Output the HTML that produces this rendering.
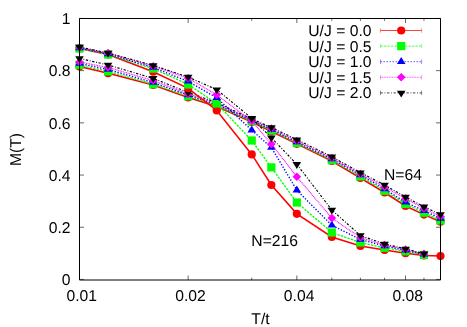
<!DOCTYPE html>
<html><head><meta charset="utf-8"><title>M(T)</title>
<style>html,body{margin:0;padding:0;background:#fff}svg{display:block;will-change:transform}text{font-family:"Liberation Sans",sans-serif;font-size:15.7px;fill:#000;text-rendering:geometricPrecision}</style></head><body>
<svg width="467" height="327" viewBox="0 0 467 327">
<rect width="467" height="327" fill="#fff"/>
<path d="M79.5 279.45h4.5M440.5 279.45h-4.5M79.5 227.25h4.5M440.5 227.25h-4.5M79.5 175.05h4.5M440.5 175.05h-4.5M79.5 122.85h4.5M440.5 122.85h-4.5M79.5 70.65h4.5M440.5 70.65h-4.5M79.5 18.45h4.5M440.5 18.45h-4.5M79.50 280.0v-4.5M79.50 18.5v4.5M188.17 280.0v-4.5M188.17 18.5v4.5M296.84 280.0v-4.5M296.84 18.5v4.5M405.52 280.0v-4.5M405.52 18.5v4.5M251.74 280.0v-2.3M251.74 18.5v2.3M331.83 280.0v-2.3M331.83 18.5v2.3M360.41 280.0v-2.3M360.41 18.5v2.3M384.58 280.0v-2.3M384.58 18.5v2.3M423.98 280.0v-2.3M423.98 18.5v2.3M440.50 280.0v-2.3M440.50 18.5v2.3" stroke="#000" stroke-width="0.6" fill="none"/>
<polyline points="79.50,66.50 108.08,73.20 153.19,85.00 188.17,97.40 216.76,106.50 251.74,122.00 271.36,131.50 296.84,143.80 331.83,161.00 360.41,178.00 384.58,192.50 405.52,206.00 423.98,214.60 440.50,221.70" fill="none" stroke="#ff0000" stroke-width="1.55"/>
<circle cx="79.50" cy="66.50" r="4.1" fill="#ff0000"/><circle cx="108.08" cy="73.20" r="4.1" fill="#ff0000"/><circle cx="153.19" cy="85.00" r="4.1" fill="#ff0000"/><circle cx="188.17" cy="97.40" r="4.1" fill="#ff0000"/><circle cx="216.76" cy="106.50" r="4.1" fill="#ff0000"/><circle cx="251.74" cy="122.00" r="4.1" fill="#ff0000"/><circle cx="271.36" cy="131.50" r="4.1" fill="#ff0000"/><circle cx="296.84" cy="143.80" r="4.1" fill="#ff0000"/><circle cx="331.83" cy="161.00" r="4.1" fill="#ff0000"/><circle cx="360.41" cy="178.00" r="4.1" fill="#ff0000"/><circle cx="384.58" cy="192.50" r="4.1" fill="#ff0000"/><circle cx="405.52" cy="206.00" r="4.1" fill="#ff0000"/><circle cx="423.98" cy="214.60" r="4.1" fill="#ff0000"/><circle cx="440.50" cy="221.70" r="4.1" fill="#ff0000"/>
<polyline points="79.50,65.00 108.08,71.40 153.19,84.20 188.17,96.20 216.76,105.50 251.74,121.30 271.36,130.50 296.84,143.00 331.83,160.20 360.41,176.50 384.58,190.80 405.52,204.00 423.98,212.70 440.50,220.50" fill="none" stroke="#00ff00" stroke-width="1.3" stroke-dasharray="2.3 1.2"/>
<rect x="75.40" y="60.90" width="8.2" height="8.2" fill="#00ff00"/><rect x="103.98" y="67.30" width="8.2" height="8.2" fill="#00ff00"/><rect x="149.09" y="80.10" width="8.2" height="8.2" fill="#00ff00"/><rect x="184.07" y="92.10" width="8.2" height="8.2" fill="#00ff00"/><rect x="212.66" y="101.40" width="8.2" height="8.2" fill="#00ff00"/><rect x="247.64" y="117.20" width="8.2" height="8.2" fill="#00ff00"/><rect x="267.26" y="126.40" width="8.2" height="8.2" fill="#00ff00"/><rect x="292.74" y="138.90" width="8.2" height="8.2" fill="#00ff00"/><rect x="327.73" y="156.10" width="8.2" height="8.2" fill="#00ff00"/><rect x="356.31" y="172.40" width="8.2" height="8.2" fill="#00ff00"/><rect x="380.48" y="186.70" width="8.2" height="8.2" fill="#00ff00"/><rect x="401.42" y="199.90" width="8.2" height="8.2" fill="#00ff00"/><rect x="419.88" y="208.60" width="8.2" height="8.2" fill="#00ff00"/><rect x="436.40" y="216.40" width="8.2" height="8.2" fill="#00ff00"/>
<polyline points="79.50,63.50 108.08,69.50 153.19,82.50 188.17,95.00 216.76,104.50 251.74,120.50 271.36,129.50 296.84,142.00 331.83,159.00 360.41,175.00 384.58,189.00 405.52,202.30 423.98,210.80 440.50,218.50" fill="none" stroke="#0000ff" stroke-width="1.4" stroke-dasharray="1.3 1.7"/>
<path d="M79.50 58.90L75.20 65.70L83.80 65.70Z" fill="#0000ff"/><path d="M108.08 64.90L103.78 71.70L112.38 71.70Z" fill="#0000ff"/><path d="M153.19 77.90L148.89 84.70L157.49 84.70Z" fill="#0000ff"/><path d="M188.17 90.40L183.87 97.20L192.47 97.20Z" fill="#0000ff"/><path d="M216.76 99.90L212.46 106.70L221.06 106.70Z" fill="#0000ff"/><path d="M251.74 115.90L247.44 122.70L256.04 122.70Z" fill="#0000ff"/><path d="M271.36 124.90L267.06 131.70L275.66 131.70Z" fill="#0000ff"/><path d="M296.84 137.40L292.54 144.20L301.14 144.20Z" fill="#0000ff"/><path d="M331.83 154.40L327.53 161.20L336.13 161.20Z" fill="#0000ff"/><path d="M360.41 170.40L356.11 177.20L364.71 177.20Z" fill="#0000ff"/><path d="M384.58 184.40L380.28 191.20L388.88 191.20Z" fill="#0000ff"/><path d="M405.52 197.70L401.22 204.50L409.82 204.50Z" fill="#0000ff"/><path d="M423.98 206.20L419.68 213.00L428.28 213.00Z" fill="#0000ff"/><path d="M440.50 213.90L436.20 220.70L444.80 220.70Z" fill="#0000ff"/>
<polyline points="79.50,62.00 108.08,67.50 153.19,80.50 188.17,94.00 216.76,103.50 251.74,119.70 271.36,128.50 296.84,141.00 331.83,158.00 360.41,174.00 384.58,187.00 405.52,198.60 423.98,208.50 440.50,216.50" fill="none" stroke="#ff00ff" stroke-width="1.2" stroke-dasharray="0.9 0.75"/>
<path d="M79.50 57.70L75.20 62.00L79.50 66.30L83.80 62.00Z" fill="#ff00ff"/><path d="M108.08 63.20L103.78 67.50L108.08 71.80L112.38 67.50Z" fill="#ff00ff"/><path d="M153.19 76.20L148.89 80.50L153.19 84.80L157.49 80.50Z" fill="#ff00ff"/><path d="M188.17 89.70L183.87 94.00L188.17 98.30L192.47 94.00Z" fill="#ff00ff"/><path d="M216.76 99.20L212.46 103.50L216.76 107.80L221.06 103.50Z" fill="#ff00ff"/><path d="M251.74 115.40L247.44 119.70L251.74 124.00L256.04 119.70Z" fill="#ff00ff"/><path d="M271.36 124.20L267.06 128.50L271.36 132.80L275.66 128.50Z" fill="#ff00ff"/><path d="M296.84 136.70L292.54 141.00L296.84 145.30L301.14 141.00Z" fill="#ff00ff"/><path d="M331.83 153.70L327.53 158.00L331.83 162.30L336.13 158.00Z" fill="#ff00ff"/><path d="M360.41 169.70L356.11 174.00L360.41 178.30L364.71 174.00Z" fill="#ff00ff"/><path d="M384.58 182.70L380.28 187.00L384.58 191.30L388.88 187.00Z" fill="#ff00ff"/><path d="M405.52 194.30L401.22 198.60L405.52 202.90L409.82 198.60Z" fill="#ff00ff"/><path d="M423.98 204.20L419.68 208.50L423.98 212.80L428.28 208.50Z" fill="#ff00ff"/><path d="M440.50 212.20L436.20 216.50L440.50 220.80L444.80 216.50Z" fill="#ff00ff"/>
<polyline points="79.50,58.40 108.08,65.00 153.19,78.30 188.17,92.50 216.76,102.50 251.74,119.00 271.36,127.40 296.84,139.70 331.83,156.70 360.41,172.60 384.58,185.00 405.52,197.00 423.98,206.80 440.50,214.50" fill="none" stroke="#000000" stroke-width="1.15" stroke-dasharray="2.3 1.7 0.9 1.6"/>
<path d="M79.50 63.00L75.20 56.20L83.80 56.20Z" fill="#000000"/><path d="M108.08 69.60L103.78 62.80L112.38 62.80Z" fill="#000000"/><path d="M153.19 82.90L148.89 76.10L157.49 76.10Z" fill="#000000"/><path d="M188.17 97.10L183.87 90.30L192.47 90.30Z" fill="#000000"/><path d="M216.76 107.10L212.46 100.30L221.06 100.30Z" fill="#000000"/><path d="M251.74 123.60L247.44 116.80L256.04 116.80Z" fill="#000000"/><path d="M271.36 132.00L267.06 125.20L275.66 125.20Z" fill="#000000"/><path d="M296.84 144.30L292.54 137.50L301.14 137.50Z" fill="#000000"/><path d="M331.83 161.30L327.53 154.50L336.13 154.50Z" fill="#000000"/><path d="M360.41 177.20L356.11 170.40L364.71 170.40Z" fill="#000000"/><path d="M384.58 189.60L380.28 182.80L388.88 182.80Z" fill="#000000"/><path d="M405.52 201.60L401.22 194.80L409.82 194.80Z" fill="#000000"/><path d="M423.98 211.40L419.68 204.60L428.28 204.60Z" fill="#000000"/><path d="M440.50 219.10L436.20 212.30L444.80 212.30Z" fill="#000000"/>
<polyline points="79.50,48.50 108.08,54.50 153.19,71.70 188.17,88.30 216.76,110.50 251.74,154.40 271.36,185.00 296.84,213.80 331.83,237.00 360.41,246.00 384.58,250.00 405.52,253.20 423.98,255.50 440.50,256.10" fill="none" stroke="#ff0000" stroke-width="1.55"/>
<circle cx="79.50" cy="48.50" r="4.1" fill="#ff0000"/><circle cx="108.08" cy="54.50" r="4.1" fill="#ff0000"/><circle cx="153.19" cy="71.70" r="4.1" fill="#ff0000"/><circle cx="188.17" cy="88.30" r="4.1" fill="#ff0000"/><circle cx="216.76" cy="110.50" r="4.1" fill="#ff0000"/><circle cx="251.74" cy="154.40" r="4.1" fill="#ff0000"/><circle cx="271.36" cy="185.00" r="4.1" fill="#ff0000"/><circle cx="296.84" cy="213.80" r="4.1" fill="#ff0000"/><circle cx="331.83" cy="237.00" r="4.1" fill="#ff0000"/><circle cx="360.41" cy="246.00" r="4.1" fill="#ff0000"/><circle cx="384.58" cy="250.00" r="4.1" fill="#ff0000"/><circle cx="405.52" cy="253.20" r="4.1" fill="#ff0000"/><circle cx="423.98" cy="255.50" r="4.1" fill="#ff0000"/><circle cx="440.50" cy="256.10" r="4.1" fill="#ff0000"/>
<polyline points="79.50,48.50 108.08,54.50 153.19,68.60 188.17,84.50 216.76,103.50 251.74,140.50 271.36,167.40 296.84,202.50 331.83,232.50 360.41,242.50 384.58,247.80 405.52,251.30 423.98,254.90" fill="none" stroke="#00ff00" stroke-width="1.3" stroke-dasharray="2.3 1.2"/>
<rect x="75.40" y="44.40" width="8.2" height="8.2" fill="#00ff00"/><rect x="103.98" y="50.40" width="8.2" height="8.2" fill="#00ff00"/><rect x="149.09" y="64.50" width="8.2" height="8.2" fill="#00ff00"/><rect x="184.07" y="80.40" width="8.2" height="8.2" fill="#00ff00"/><rect x="212.66" y="99.40" width="8.2" height="8.2" fill="#00ff00"/><rect x="247.64" y="136.40" width="8.2" height="8.2" fill="#00ff00"/><rect x="267.26" y="163.30" width="8.2" height="8.2" fill="#00ff00"/><rect x="292.74" y="198.40" width="8.2" height="8.2" fill="#00ff00"/><rect x="327.73" y="228.40" width="8.2" height="8.2" fill="#00ff00"/><rect x="356.31" y="238.40" width="8.2" height="8.2" fill="#00ff00"/><rect x="380.48" y="243.70" width="8.2" height="8.2" fill="#00ff00"/><rect x="401.42" y="247.20" width="8.2" height="8.2" fill="#00ff00"/><rect x="419.88" y="250.80" width="8.2" height="8.2" fill="#00ff00"/>
<polyline points="79.50,48.00 108.08,54.00 153.19,67.50 188.17,81.40 216.76,97.80 251.74,130.20 271.36,147.50 296.84,190.20 331.83,225.30 360.41,239.50 384.58,246.00 405.52,250.30 423.98,254.30" fill="none" stroke="#0000ff" stroke-width="1.4" stroke-dasharray="1.3 1.7"/>
<path d="M79.50 43.40L75.20 50.20L83.80 50.20Z" fill="#0000ff"/><path d="M108.08 49.40L103.78 56.20L112.38 56.20Z" fill="#0000ff"/><path d="M153.19 62.90L148.89 69.70L157.49 69.70Z" fill="#0000ff"/><path d="M188.17 76.80L183.87 83.60L192.47 83.60Z" fill="#0000ff"/><path d="M216.76 93.20L212.46 100.00L221.06 100.00Z" fill="#0000ff"/><path d="M251.74 125.60L247.44 132.40L256.04 132.40Z" fill="#0000ff"/><path d="M271.36 142.90L267.06 149.70L275.66 149.70Z" fill="#0000ff"/><path d="M296.84 185.60L292.54 192.40L301.14 192.40Z" fill="#0000ff"/><path d="M331.83 220.70L327.53 227.50L336.13 227.50Z" fill="#0000ff"/><path d="M360.41 234.90L356.11 241.70L364.71 241.70Z" fill="#0000ff"/><path d="M384.58 241.40L380.28 248.20L388.88 248.20Z" fill="#0000ff"/><path d="M405.52 245.70L401.22 252.50L409.82 252.50Z" fill="#0000ff"/><path d="M423.98 249.70L419.68 256.50L428.28 256.50Z" fill="#0000ff"/>
<polyline points="79.50,47.50 108.08,53.00 153.19,66.20 188.17,78.20 216.76,94.80 251.74,121.00 271.36,144.00 296.84,176.80 331.83,218.10 360.41,237.50 384.58,245.00 405.52,249.50 423.98,254.00" fill="none" stroke="#ff00ff" stroke-width="1.2" stroke-dasharray="0.9 0.75"/>
<path d="M79.50 43.20L75.20 47.50L79.50 51.80L83.80 47.50Z" fill="#ff00ff"/><path d="M108.08 48.70L103.78 53.00L108.08 57.30L112.38 53.00Z" fill="#ff00ff"/><path d="M153.19 61.90L148.89 66.20L153.19 70.50L157.49 66.20Z" fill="#ff00ff"/><path d="M188.17 73.90L183.87 78.20L188.17 82.50L192.47 78.20Z" fill="#ff00ff"/><path d="M216.76 90.50L212.46 94.80L216.76 99.10L221.06 94.80Z" fill="#ff00ff"/><path d="M251.74 116.70L247.44 121.00L251.74 125.30L256.04 121.00Z" fill="#ff00ff"/><path d="M271.36 139.70L267.06 144.00L271.36 148.30L275.66 144.00Z" fill="#ff00ff"/><path d="M296.84 172.50L292.54 176.80L296.84 181.10L301.14 176.80Z" fill="#ff00ff"/><path d="M331.83 213.80L327.53 218.10L331.83 222.40L336.13 218.10Z" fill="#ff00ff"/><path d="M360.41 233.20L356.11 237.50L360.41 241.80L364.71 237.50Z" fill="#ff00ff"/><path d="M384.58 240.70L380.28 245.00L384.58 249.30L388.88 245.00Z" fill="#ff00ff"/><path d="M405.52 245.20L401.22 249.50L405.52 253.80L409.82 249.50Z" fill="#ff00ff"/><path d="M423.98 249.70L419.68 254.00L423.98 258.30L428.28 254.00Z" fill="#ff00ff"/>
<polyline points="79.50,47.00 108.08,53.00 153.19,65.40 188.17,77.00 216.76,89.70 251.74,118.30 271.36,137.70 296.84,164.30 331.83,210.00 360.41,235.50 384.58,244.00 405.52,248.90 423.98,253.60" fill="none" stroke="#000000" stroke-width="1.15" stroke-dasharray="2.3 1.7 0.9 1.6"/>
<path d="M79.50 51.60L75.20 44.80L83.80 44.80Z" fill="#000000"/><path d="M108.08 57.60L103.78 50.80L112.38 50.80Z" fill="#000000"/><path d="M153.19 70.00L148.89 63.20L157.49 63.20Z" fill="#000000"/><path d="M188.17 81.60L183.87 74.80L192.47 74.80Z" fill="#000000"/><path d="M216.76 94.30L212.46 87.50L221.06 87.50Z" fill="#000000"/><path d="M251.74 122.90L247.44 116.10L256.04 116.10Z" fill="#000000"/><path d="M271.36 142.30L267.06 135.50L275.66 135.50Z" fill="#000000"/><path d="M296.84 168.90L292.54 162.10L301.14 162.10Z" fill="#000000"/><path d="M331.83 214.60L327.53 207.80L336.13 207.80Z" fill="#000000"/><path d="M360.41 240.10L356.11 233.30L364.71 233.30Z" fill="#000000"/><path d="M384.58 248.60L380.28 241.80L388.88 241.80Z" fill="#000000"/><path d="M405.52 253.50L401.22 246.70L409.82 246.70Z" fill="#000000"/><path d="M423.98 258.20L419.68 251.40L428.28 251.40Z" fill="#000000"/>
<path d="M79.5 18.5H440.5V280.0H79.5Z" stroke="#000" stroke-width="1" fill="none"/>
<text x="371.5" y="35.90" text-anchor="end">U/J = 0.0</text><path d="M380.5 30.5H421.6" stroke="#ff0000" stroke-width="0.75" fill="none"/><path d="M380.5 28.3v4.4M421.6 28.3v4.4" stroke="#ff0000" stroke-width="0.8" stroke-opacity="0.55" fill="none"/><circle cx="401.20" cy="30.50" r="4.1" fill="#ff0000"/>
<text x="371.5" y="51.50" text-anchor="end">U/J = 0.5</text><path d="M380.5 46.1H421.6" stroke="#00ff00" stroke-width="0.75" fill="none" stroke-dasharray="2.3 1.2"/><path d="M380.5 43.9v4.4M421.6 43.9v4.4" stroke="#00ff00" stroke-width="0.8" stroke-opacity="0.55" fill="none"/><rect x="397.10" y="42.00" width="8.2" height="8.2" fill="#00ff00"/>
<text x="371.5" y="67.10" text-anchor="end">U/J = 1.0</text><path d="M380.5 61.7H421.6" stroke="#0000ff" stroke-width="0.75" fill="none" stroke-dasharray="1.3 1.7"/><path d="M380.5 59.5v4.4M421.6 59.5v4.4" stroke="#0000ff" stroke-width="0.8" stroke-opacity="0.55" fill="none"/><path d="M401.20 57.10L396.90 63.90L405.50 63.90Z" fill="#0000ff"/>
<text x="371.5" y="82.70" text-anchor="end">U/J = 1.5</text><path d="M380.5 77.3H421.6" stroke="#ff00ff" stroke-width="0.75" fill="none" stroke-dasharray="0.9 0.75"/><path d="M380.5 75.1v4.4M421.6 75.1v4.4" stroke="#ff00ff" stroke-width="0.8" stroke-opacity="0.55" fill="none"/><path d="M401.20 73.00L396.90 77.30L401.20 81.60L405.50 77.30Z" fill="#ff00ff"/>
<text x="371.5" y="98.30" text-anchor="end">U/J = 2.0</text><path d="M380.5 92.9H421.6" stroke="#000000" stroke-width="0.75" fill="none" stroke-dasharray="2.3 1.7 0.9 1.6"/><path d="M380.5 90.7v4.4M421.6 90.7v4.4" stroke="#000000" stroke-width="0.8" stroke-opacity="0.55" fill="none"/><path d="M401.20 97.50L396.90 90.70L405.50 90.70Z" fill="#000000"/>
<text x="70.5" y="285.40" text-anchor="end">0</text><text x="70.5" y="233.10" text-anchor="end">0.2</text><text x="70.5" y="180.80" text-anchor="end">0.4</text><text x="70.5" y="128.50" text-anchor="end">0.6</text><text x="70.5" y="76.20" text-anchor="end">0.8</text><text x="70.5" y="23.90" text-anchor="end">1</text><text x="81.80" y="301.2" text-anchor="middle">0.01</text><text x="190.47" y="301.2" text-anchor="middle">0.02</text><text x="299.14" y="301.2" text-anchor="middle">0.04</text><text x="407.82" y="301.2" text-anchor="middle">0.08</text>
<text x="260.5" y="324" text-anchor="middle">T/t</text><text transform="translate(20.8 149.5) rotate(-90)" text-anchor="middle">M(T)</text><text x="384" y="180.3">N=64</text><text x="251.3" y="246">N=216</text>
</svg>
</body></html>
